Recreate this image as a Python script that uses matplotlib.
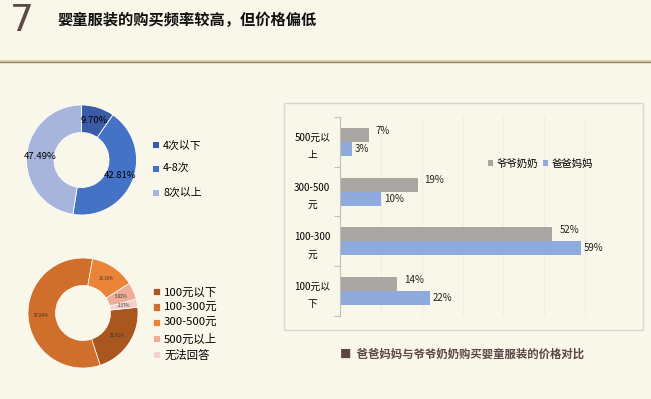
import numpy as np
import matplotlib
matplotlib.use('Agg')
from matplotlib import pyplot as plt
from matplotlib.lines import Line2D
from matplotlib.patches import Rectangle

plt.rcParams['font.family'] = ['Noto Sans CJK SC', 'DejaVu Sans']

# данные
freq_labels = ['4次以下', '4-8次', '8次以上']
freq_values = [9.70, 42.81, 47.49]
freq_colors = ['#3A5CA6', '#4472C4', '#A7B5DD']

price_labels = ['100元以下', '100-300元', '300-500元', '500元以上', '无法回答']
price_values = [21.61, 57.83, 13.16, 5.02, 2.37]
price_colors = ['#A9561F', '#D06E2B', '#EA8438', '#EFAD98', '#F4CFCB']

bar_cats = ['100元以\n下', '100-300\n元', '300-500\n元', '500元以\n上']
grand = [14, 52, 19, 7]    # 爷爷奶奶
parents = [22, 59, 10, 3]  # 爸爸妈妈
bar_names = ['爷爷奶奶', '爸爸妈妈']

W, H = 651, 399
BG = '#F9F6EA'


def box(x, y, w, h):
    # пиксели -> доли фигуры
    return [x / W, 1 - (y + h) / H, w / W, h / H]


fig = plt.figure(figsize=(6.51, 3.99), dpi=100, facecolor=BG)

# заголовок
fig.text(10 / W, 1 - 31 / H, '7', fontsize=27, color='#5B4A45', va='baseline',
         ha='left', family=['DejaVu Sans'])
fig.text(57 / W, 1 - 20 / H, '婴童服装的购买频率较高，但价格偏低', fontsize=11,
         fontweight='bold', color='#111111', va='center', ha='left')
fig.add_artist(Line2D([0, 1], [1 - 60.8 / H] * 2, color='#E8C48C', lw=1.2))
fig.add_artist(Line2D([0, 1], [1 - 62.2 / H] * 2, color='#7D8782', lw=1.0))

# кольцо 1
ax1 = fig.add_axes(box(26.5, 105, 110, 110))
w1, t1, a1 = ax1.pie(freq_values, colors=freq_colors, startangle=90, counterclock=False,
                     wedgeprops=dict(width=0.5, edgecolor='white', linewidth=0.6),
                     autopct='%.2f%%', pctdistance=0.75,
                     textprops=dict(fontsize=6.8, color='black'))
ax1.set_xlim(-1, 1)
ax1.set_ylim(-1, 1)
ax1.set_aspect('equal')
fig.legend(w1, freq_labels, loc='upper left', bbox_to_anchor=(147 / W, 1 - 135 / H),
           frameon=False, fontsize=7.8, handlelength=0.6, handleheight=0.6,
           handletextpad=0.4, labelspacing=1.25, borderpad=0)

# кольцо 2
ax2 = fig.add_axes(box(28, 258, 110, 110))
w2, t2, a2 = ax2.pie(price_values, colors=price_colors, startangle=6, counterclock=False,
                     wedgeprops=dict(width=0.5, edgecolor='white', linewidth=0.5),
                     autopct='%.2f%%', pctdistance=0.75,
                     textprops=dict(fontsize=3.2, color='#333333'))
ax2.set_xlim(-1, 1)
ax2.set_ylim(-1, 1)
ax2.set_aspect('equal')
fig.legend(w2, price_labels, loc='upper left', bbox_to_anchor=(147 / W, 1 - 282 / H),
           frameon=False, fontsize=8.2, handlelength=0.6, handleheight=0.6,
           handletextpad=0.4, labelspacing=0.45, borderpad=0)

# рамка столбчатой диаграммы
fig.add_artist(Rectangle((284 / W, 1 - 330 / H), 359 / W, 227 / H, fill=False,
                         edgecolor='#D8D6CF', lw=1.0, transform=fig.transFigure))

ax3 = fig.add_axes(box(340, 117, 286, 199))
ax3.set_facecolor(BG)
y = np.arange(len(bar_cats))
bh = 0.28
b1 = ax3.barh(y + bh / 2, grand, height=bh, color='#A9A6A4', label=bar_names[0])
b2 = ax3.barh(y - bh / 2, parents, height=bh, color='#8FAADC', label=bar_names[1])
for rect, v in zip(b1, grand):
    ax3.annotate(f'{v}%', (rect.get_width(), rect.get_y() + rect.get_height() / 2),
                 xytext=(5, 3), textcoords='offset points', fontsize=7,
                 va='center', ha='left', color='#222222')
for rect, v in zip(b2, parents):
    ax3.annotate(f'{v}%', (rect.get_width(), rect.get_y() + rect.get_height() / 2),
                 xytext=(2, 0), textcoords='offset points', fontsize=7,
                 va='center', ha='left', color='#222222')
ax3.set_xlim(0, 70)
ax3.set_ylim(-0.5, len(bar_cats) - 0.5)
ax3.set_xticks(np.arange(10, 71, 10))
ax3.tick_params(axis='x', length=0, labelbottom=False)
ax3.grid(axis='x', color='#EEEBDF', lw=0.6)
ax3.set_axisbelow(True)
ax3.set_yticks(np.arange(-0.5, len(bar_cats), 1.0))
ax3.set_yticklabels([])
ax3.set_yticks(y, minor=True)
ax3.set_yticklabels(bar_cats, minor=True, fontsize=7, linespacing=1.9, ha='center')
ax3.tick_params(axis='y', which='minor', length=0, pad=20)
ax3.tick_params(axis='y', which='major', length=4, color='#BFBFBF')
for s in ['top', 'right', 'bottom']:
    ax3.spines[s].set_visible(False)
ax3.spines['left'].set_color('#BFBFBF')
ax3.legend(loc='center left', bbox_to_anchor=(0.5, 0.765), ncol=2, frameon=False,
           fontsize=7.5, handlelength=0.5, handleheight=0.5, handletextpad=0.3,
           columnspacing=0.5, borderpad=0)

# подпись
fig.text(340 / W, 1 - 354 / H, '■  爸爸妈妈与爷爷奶奶购买婴童服装的价格对比', fontsize=8.2,
         fontweight='bold', color='#5A4646', va='center', ha='left')

fig.savefig('out.png', dpi=100, facecolor=BG)
